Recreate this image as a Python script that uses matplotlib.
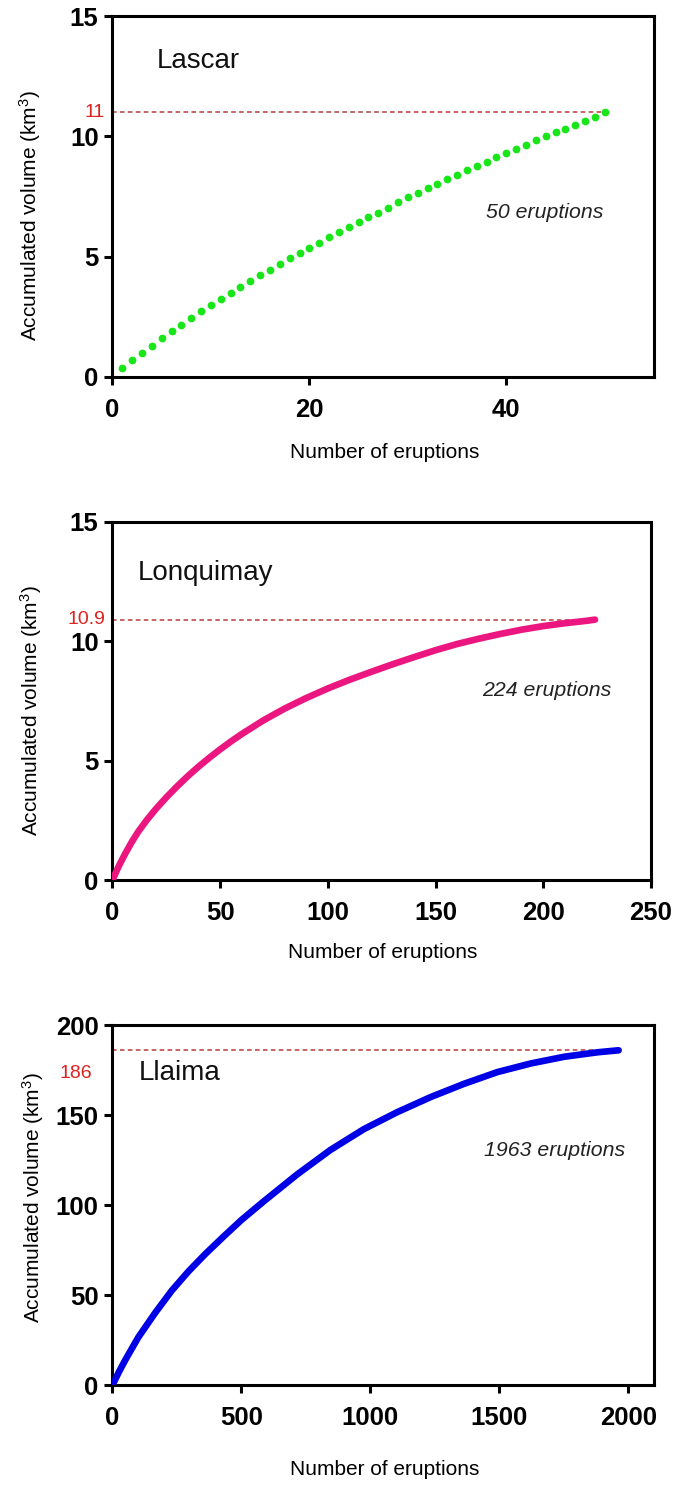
import matplotlib
matplotlib.use("Agg")
import matplotlib.pyplot as plt
from matplotlib.transforms import blended_transform_factory

plt.rcParams['font.family'] = ['Liberation Sans', 'DejaVu Sans']
plt.rcParams['mathtext.fontset'] = 'custom'
plt.rcParams['mathtext.rm'] = 'Liberation Sans'
plt.rcParams['mathtext.it'] = 'Liberation Sans:italic'

# ---- Lascar: accumulated volume after each eruption (km3)
lascar_n = list(range(1, 51))
lascar_vol = [0.38, 0.68, 1.00, 1.29, 1.60, 1.89, 2.17, 2.45, 2.72, 2.97,
              3.24, 3.50, 3.74, 3.99, 4.22, 4.46, 4.70, 4.92, 5.14, 5.36,
              5.58, 5.81, 6.03, 6.24, 6.43, 6.64, 6.83, 7.01, 7.25, 7.46,
              7.65, 7.83, 8.02, 8.22, 8.40, 8.58, 8.78, 8.95, 9.13, 9.31,
              9.49, 9.65, 9.83, 10.00, 10.17, 10.32, 10.47, 10.63, 10.81, 11.00]

# ---- Lonquimay
lonquimay_n = [0, 3, 6, 9, 12, 16, 20, 25, 30, 35, 40, 45, 50, 55, 60, 70,
               80, 90, 100, 110, 120, 130, 140, 150, 160, 170, 180, 190,
               200, 210, 220, 224]
lonquimay_vol = [0, 0.60, 1.12, 1.60, 2.03, 2.52, 2.96, 3.46, 3.92, 4.35,
                 4.75, 5.12, 5.47, 5.80, 6.11, 6.68, 7.18, 7.62, 8.02, 8.38,
                 8.71, 9.03, 9.33, 9.62, 9.88, 10.10, 10.30, 10.48, 10.63,
                 10.75, 10.85, 10.90]

# ---- Llaima
llaima_n = [0, 25, 50, 100, 165, 230, 295, 360, 430, 500, 586, 716, 845,
            975, 1104, 1234, 1364, 1493, 1623, 1752, 1882, 1963]
llaima_vol = [0, 7.3, 14.0, 26.5, 40.0, 52.5, 63.2, 72.8, 82.4, 91.7, 102.0,
              117.0, 130.6, 142.2, 151.6, 160.0, 167.4, 173.9, 178.7, 182.4,
              184.9, 186.0]

totals = ["11", "10.9", "186"]
total_vals = [11.0, 10.9, 186.0]
names = ["Lascar", "Lonquimay", "Llaima"]
counts = ["50 eruptions", "224 eruptions", "1963 eruptions"]

xticks = [[0, 20, 40], [0, 50, 100, 150, 200, 250], [0, 500, 1000, 1500, 2000]]
yticks = [[0, 5, 10, 15], [0, 5, 10, 15], [0, 50, 100, 150, 200]]
xlims = [(0, 55), (0, 250), (0, 2100)]
ylims = [(0, 15), (0, 15), (0, 200)]

fig = plt.figure(figsize=(6.76, 14.88), dpi=100)
rects = [[0.1664, 0.7468, 0.8010, 0.2424],
         [0.1664, 0.4086, 0.7966, 0.2408],
         [0.1664, 0.0692, 0.8010, 0.2419]]
axes = [fig.add_axes(r) for r in rects]

red_line = '#b83c3c'
red_text = '#dd2222'

for i, ax in enumerate(axes):
    ax.set_xlim(*xlims[i])
    ax.set_ylim(*ylims[i])
    ax.set_xticks(xticks[i])
    ax.set_yticks(yticks[i])
    for sp in ax.spines.values():
        sp.set_linewidth(2.2)
    ax.tick_params(direction='out', length=6, width=2.2,
                   labelsize=18.5, top=False, right=False)
    ax.tick_params(axis='x', pad=9)
    ax.tick_params(axis='y', pad=4)
    for lab in ax.get_xticklabels() + ax.get_yticklabels():
        lab.set_fontweight('bold')
    ax.set_xlabel('Number of eruptions', fontsize=15)
    ax.set_ylabel('Accumulated volume (km$^{\\mathrm{3}}$)', fontsize=15)

# Lascar: one dot per eruption
axes[0].plot(lascar_n, lascar_vol, linestyle='none', marker='o',
             markersize=5.6, markeredgewidth=0, color='#19e619',
             clip_on=False, zorder=3)
# Lonquimay and Llaima: dense series drawn as thick curves
axes[1].plot(lonquimay_n, lonquimay_vol, color='#ec1680', lw=4.8,
             solid_capstyle='round', solid_joinstyle='round', zorder=3)
axes[2].plot(llaima_n, llaima_vol, color='#0000e6', lw=4.8,
             solid_capstyle='round', solid_joinstyle='round', zorder=3)

last_n = [lascar_n[-1], lonquimay_n[-1], llaima_n[-1]]
for i, ax in enumerate(axes):
    ax.hlines(total_vals[i], 0, last_n[i], colors=red_line, lw=1.1,
              linestyles=(0, (3.0, 2.2)), zorder=2)

# total labels on the left of the y axis
label_x = [-0.015, -0.013, -0.037]
label_y = [total_vals[0], total_vals[1], 173]
for i, ax in enumerate(axes):
    tr = blended_transform_factory(ax.transAxes, ax.transData)
    ax.text(label_x[i], label_y[i], totals[i], transform=tr, ha='right',
            va='center', color=red_text, fontsize=14, clip_on=False)

# volcano names and eruption counts
name_pos = [(4.5, 12.85), (11.6, 12.57), (103, 169.4)]
count_pos = [(37.9, 6.6), (171.7, 7.71), (1441, 127.2)]
for i, ax in enumerate(axes):
    ax.text(*name_pos[i], names[i], fontsize=20, ha='left',
            va='baseline', color='#111111')
    ax.text(*count_pos[i], counts[i], fontsize=15.3, ha='left',
            va='baseline', style='italic', color='#222222')

# axis label placement
xl_y = [-0.209, -0.201, -0.236]
yl_pos = [(-0.152, 0.446), (-0.152, 0.472), (-0.147, 0.522)]
for i, ax in enumerate(axes):
    ax.xaxis.set_label_coords(0.502, xl_y[i])
    ax.xaxis.label.set_va('center')
    ax.yaxis.set_label_coords(*yl_pos[i])
    ax.yaxis.label.set_va('center')

fig.savefig('out.png', dpi=100)
